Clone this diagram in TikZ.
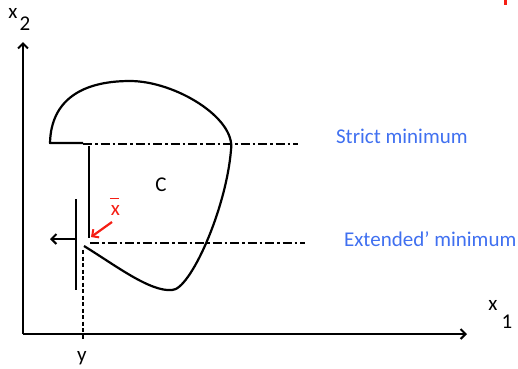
\documentclass[tikz,border=0pt]{standalone}
\usepackage{fontspec}
\setmainfont{Carlito}
\usetikzlibrary{arrows.meta}
\definecolor{lblue}{RGB}{64,112,240}
\definecolor{lred}{RGB}{245,30,20}
\begin{document}
\begin{tikzpicture}[x=1pt,y=-1pt,line width=2.2pt,
  lbl/.style={inner sep=0pt,font=\fontsize{21}{24}\selectfont},
  bluelbl/.style={lbl,text=lblue,anchor=west},
  axis/.style={-{Straight Barb[length=5pt,width=10pt,line width=2pt]}},
  dashdot/.style={line width=2pt,dash pattern=on 9pt off 3pt on 2.5pt off 3pt},
  dashv/.style={line width=2pt,dash pattern=on 4pt off 2.5pt},
  redarrow/.style={lred,line width=2.2pt,-{Straight Barb[length=5pt,width=10pt,line width=2pt]}}]
\useasboundingbox (0,0) rectangle (518,368);
% axes
\coordinate (O) at (23,334);
\coordinate (Ytop) at (23,42);
\coordinate (Xend) at (467,334);
\draw[axis] (O) -- (Ytop);
\draw[axis] (O) -- (Xend);
\node[lbl] (x2a) at (13,13) {x};
\node[lbl] (x2b) at (25,24) {2};
\node[lbl] (x1a) at (493,305) {x};
\node[lbl] (x1b) at (507,322) {1};
\node[lbl] (ylab) at (82,358) {y};
% set C
\coordinate (c0) at (84,246);
\coordinate (cb) at (172,290);
\coordinate (cr) at (231,150);
\coordinate (ct) at (130,81);
\coordinate (cl) at (50,143);
\coordinate (cs) at (83,143);
\draw[line join=round] (c0) .. controls (115,265) and (150,292) .. (cb)
  .. controls (190,290) and (226,210) .. (cr)
  .. controls (236,118) and (175,81) .. (ct)
  .. controls (82,81) and (51,100) .. (cl) -- (cs);
\coordinate (va) at (89,146);
\coordinate (vb) at (89,238);
\draw (va) -- (vb);
\node[lbl] (C) at (161,185) {C};
% dash-dot lines
\coordinate (s1) at (83,144);
\coordinate (s2) at (298,144);
\coordinate (e1) at (90,243);
\coordinate (e2) at (305,243);
\draw[dashdot] (s1) -- (s2);
\draw[dashdot] (e1) -- (e2);
\node[bluelbl] (strict) at (335,136) {Strict minimum};
\node[bluelbl] (ext) at (343,239) {Extended’ minimum};
% supporting line and arrow
\coordinate (h1) at (76,199);
\coordinate (h2) at (76,290);
\draw (h1) -- (h2);
\coordinate (a1) at (76,239);
\coordinate (a2) at (50,239);
\draw[axis] (a1) -- (a2);
\coordinate (d1) at (83,250);
\coordinate (d2) at (83,339);
\draw[dashv] (d1) -- (d2);
% x bar
\node[lbl,text=lred,anchor=base] (xbar) at (115.5,215) {\rlap{\hspace{-1pt}\raisebox{16pt}{\rule{9.5pt}{1.5pt}}}x};
\coordinate (r1) at (112,222);
\coordinate (r2) at (91,237);
\draw[redarrow] (r1) -- (r2);
% red mark top right
\fill[lred] (504,0) rectangle (507,5);
\end{tikzpicture}
\end{document}
